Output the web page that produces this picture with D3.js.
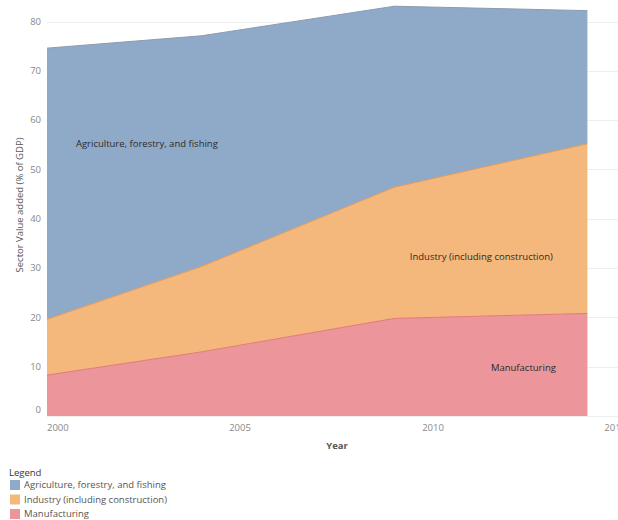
<!DOCTYPE html>
<html lang="en">
<head>
    <meta charset="UTF-8">
    <title>Sector Value added</title>
    <style>
        body { margin: 0; background: #fff; }
        text { font-family: "Open Sans", sans-serif; }
        .tick-label { font-size: 9.5px; fill: #888; }
        .grid line { stroke: #eeeeee; stroke-width: 1px; }
        .area-label { font-size: 9.5px; fill: #2b2b2b; }
        .legend-text { font-size: 9.5px; fill: #555; }
    </style>
</head>
<body>
    <svg width="618" height="520"></svg>

    <script src="https://d3js.org/d3.v7.min.js"></script>
    <script>
        // data (stack layers, % of GDP)
        var years = [2000, 2004, 2009, 2014];
        var manufacturing = [8.3, 13.0, 19.8, 20.8];
        var industry = [11.3, 17.3, 26.6, 34.4];
        var agriculture = [55.0, 46.8, 36.7, 27.0];

        var sectors = ["Manufacturing", "Industry (including construction)", "Agriculture, forestry, and fishing"];
        var colors = ["#ec959a", "#f4b87c", "#8faac9"];
        var lineColors = ["#e2787d", "#e89a55", "#8a9bb0"];

        var xTicks = [2000, 2005, 2010, 2015];
        var yTicks = [0, 10, 20, 30, 40, 50, 60, 70, 80];

        var rows = years.map(function(y, i) {
            return {
                year: y,
                "Manufacturing": manufacturing[i],
                "Industry (including construction)": industry[i],
                "Agriculture, forestry, and fishing": agriculture[i]
            };
        });

        var svg = d3.select("svg");

        var x = d3.scaleLinear().domain([2000, 2015]).range([47, 626]);
        var y = d3.scaleLinear().domain([0, 80]).range([416, 21.5]);

        // gridlines
        svg.append("g")
            .attr("class", "grid")
            .selectAll("line")
            .data(yTicks)
            .enter().append("line")
            .attr("x1", x(2000))
            .attr("x2", 618)
            .attr("y1", function(d) { return Math.round(y(d)) + 0.5; })
            .attr("y2", function(d) { return Math.round(y(d)) + 0.5; });

        var stack = d3.stack().keys(sectors);
        var series = stack(rows);

        var area = d3.area()
            .x(function(d) { return x(d.data.year); })
            .y0(function(d) { return y(d[0]); })
            .y1(function(d) { return y(d[1]); });

        var topLine = d3.line()
            .x(function(d) { return x(d.data.year); })
            .y(function(d) { return y(d[1]); });

        svg.append("g")
            .selectAll("path")
            .data(series)
            .enter().append("path")
            .attr("d", area)
            .attr("fill", function(d, i) { return colors[i]; });

        svg.append("g")
            .selectAll("path")
            .data(series)
            .enter().append("path")
            .attr("d", topLine)
            .attr("fill", "none")
            .attr("stroke", function(d, i) { return lineColors[i]; })
            .attr("stroke-width", 1);

        // y axis labels
        svg.append("g")
            .selectAll("text")
            .data(yTicks)
            .enter().append("text")
            .attr("class", "tick-label")
            .attr("x", 41)
            .attr("y", function(d) { return d === 0 ? y(d) - 6 : y(d); })
            .attr("dy", "0.35em")
            .attr("text-anchor", "end")
            .text(function(d) { return d; });

        // x axis labels (edge labels kept inside the pane)
        svg.append("g")
            .selectAll("text")
            .data(xTicks)
            .enter().append("text")
            .attr("class", "tick-label")
            .attr("x", function(d) { return x(d); })
            .attr("y", 431)
            .attr("text-anchor", function(d, i) {
                return i === 0 ? "start" : (i === xTicks.length - 1 ? "end" : "middle");
            })
            .text(function(d) { return d; });

        svg.append("text")
            .attr("x", 337)
            .attr("y", 449)
            .attr("text-anchor", "middle")
            .style("font-size", "9.5px")
            .style("font-weight", "bold")
            .style("fill", "#555")
            .text("Year");

        svg.append("text")
            .attr("transform", "translate(23,205) rotate(-90)")
            .attr("text-anchor", "middle")
            .style("font-size", "9.5px")
            .style("fill", "#555")
            .text("Sector Value added (% of GDP)");

        // labels inside the areas
        var labelPos = [[2011.5, 9.9], [2009.4, 32.4], [2000.75, 55.3]];
        svg.append("g")
            .selectAll("text")
            .data(sectors)
            .enter().append("text")
            .attr("class", "area-label")
            .attr("x", function(d, i) { return x(labelPos[i][0]); })
            .attr("y", function(d, i) { return y(labelPos[i][1]); })
            .attr("dy", "0.35em")
            .text(function(d) { return d; });

        // legend
        var legend = svg.append("g").attr("transform", "translate(9,0)");
        legend.append("text")
            .attr("x", 0)
            .attr("y", 476)
            .style("font-size", "9.5px")
            .style("fill", "#333")
            .text("Legend");

        var legendOrder = [2, 1, 0];
        var item = legend.selectAll("g.item")
            .data(legendOrder)
            .enter().append("g")
            .attr("class", "item")
            .attr("transform", function(d, i) { return "translate(0," + (480 + i * 14.5) + ")"; });

        item.append("rect")
            .attr("x", 1)
            .attr("y", 0)
            .attr("width", 10)
            .attr("height", 10)
            .attr("fill", function(d) { return colors[d]; });

        item.append("text")
            .attr("class", "legend-text")
            .attr("x", 15)
            .attr("y", 5)
            .attr("dy", "0.35em")
            .text(function(d) { return sectors[d]; });
    </script>
</body>
</html>
